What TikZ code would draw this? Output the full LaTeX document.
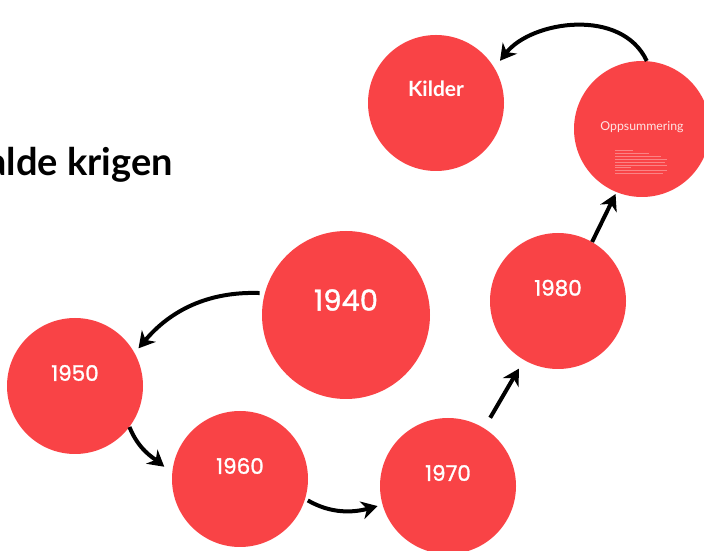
\documentclass[tikz,border=0pt]{standalone}
\usepackage{fontspec}
\setmainfont{Lato}
\newfontfamily\yearfont{Poppins}[FakeBold=1.3]
\usetikzlibrary{arrows.meta}
\definecolor{dotred}{RGB}{249,67,70}
\definecolor{paletext}{RGB}{255,228,228}
\begin{document}
\begin{tikzpicture}[x=1pt,y=1pt,
  dot/.style={circle,fill=dotred,draw=none,minimum size=136pt,inner sep=0pt},
  bigdot/.style={dot,minimum size=168pt},
  yearlabel/.style={text=white,font=\yearfont\fontsize{21.5}{21.5}\selectfont,yshift=13pt},
  flow/.style={line width=4pt,-{Stealth[length=16pt,width=18pt,inset=5pt]}}]
\useasboundingbox (0,0) rectangle (704,551);
\clip (0,0) rectangle (704,551);

% heading, cut by the left edge
\node[anchor=base east,inner sep=0pt,font=\bfseries\fontsize{38}{38}\selectfont] (title) at (173,375) {alde krigen};

% timeline circles
\node[dot]    (kilder) at (436,448) {};
\node[dot]    (opps)   at (642,422) {};
\node[bigdot] (y1940)  at (346,236) {};
\node[dot]    (y1950)  at (75,165)  {};
\node[dot]    (y1960)  at (240,72)  {};
\node[dot]    (y1970)  at (448,65)  {};
\node[dot]    (y1980)  at (558,250) {};

% circle labels
\node[text=white,font=\bfseries\fontsize{21}{21}\selectfont] (tk) at ([yshift=14pt]kilder.center) {Kilder};
\node[text=paletext,font=\fontsize{12.3}{12.3}\selectfont] (to) at ([yshift=2pt]opps.center) {Oppsummering};
\node[text=white,font=\yearfont\fontsize{29}{29}\selectfont] (t40) at ([yshift=15pt]y1940.center) {1940};
\node[yearlabel] (t50) at (y1950.center) {1950};
\node[yearlabel] (t60) at (y1960.center) {1960};
\node[yearlabel] (t70) at (y1970.center) {1970};
\node[yearlabel] (t80) at (y1980.center) {1980};

% faint body lines inside the summary circle
\foreach \yy/\len in {401/18,398/34,395/46,392/52,389/50,386/52,384/16,381/52,378/48}
  \draw[paletext,opacity=0.4,line width=0.7pt] ([shift={(-27pt,\yy pt-422pt)}]opps.center) -- ++(\len pt,0);

% connectors
\draw[flow,shorten <=5pt,shorten >=6pt] (y1940.165) to[out=178,in=50] (y1950.29);
\draw[flow,shorten >=10pt] (y1950.-37) to[out=-68,in=141] (y1960.175);
\draw[flow,shorten <=3pt,shorten >=5pt] (y1960.-17) to[out=-30,in=195] (y1970.196);
\draw[flow,shorten <=12pt,shorten >=10pt] (y1970.58) -- (y1980.-120);
\draw[flow,shorten >=2pt] (y1980.60) -- (opps.-112);
\draw[flow,shorten >=9pt] (opps.86) to[out=115,in=52] (kilder.31);
\end{tikzpicture}
\end{document}
